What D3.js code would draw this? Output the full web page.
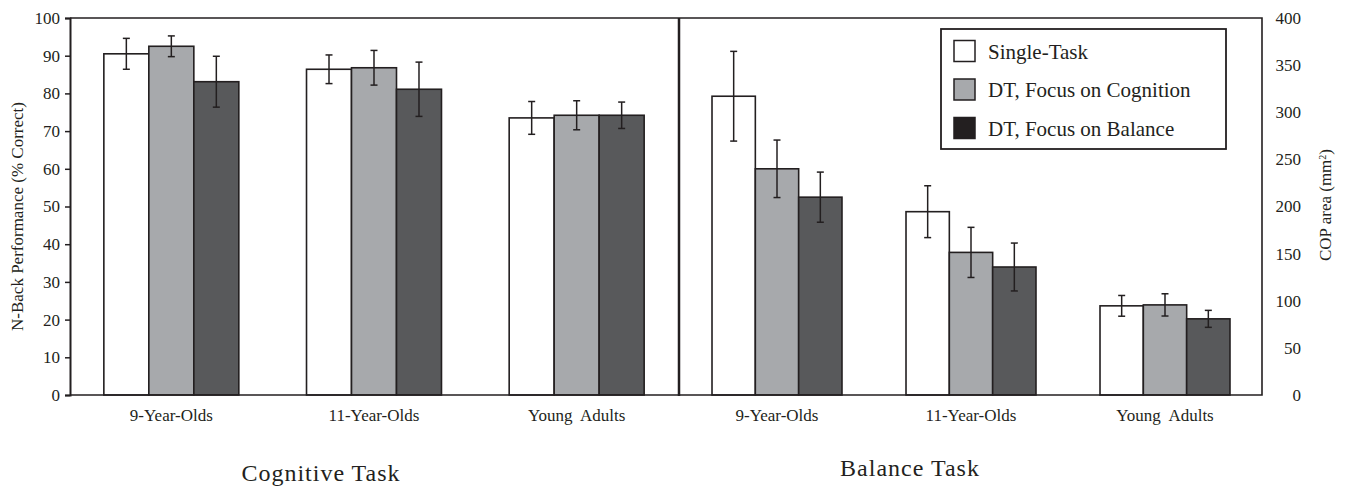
<!DOCTYPE html>
<html>
<head>
<meta charset="utf-8">
<script src="https://cdn.jsdelivr.net/npm/d3@7"></script>
<style>
  body { margin: 0; background: #fff; }
  svg text { font-family: "Liberation Serif", "Times New Roman", serif; fill: #231f20; }
</style>
</head>
<body>
<div id="chart"></div>
<script>
// =====================================
// DATA
// =====================================

const groups = ["9-Year-Olds", "11-Year-Olds", "Young  Adults"];
const series = ["Single-Task", "DT, Focus on Cognition", "DT, Focus on Balance"];

// Cognitive task: N-Back performance (% correct)
const nbackSingle = [90.5, 86.4, 73.5];
const nbackCog = [92.5, 86.8, 74.2];
const nbackBal = [83.1, 81.1, 74.2];
const nbackSingleErr = [4.1, 3.8, 4.35];
const nbackCogErr = [2.75, 4.6, 3.85];
const nbackBalErr = [6.75, 7.2, 3.5];

// Balance task: COP area (mm2)
const copSingle = [317, 194.5, 94.6];
const copCog = [240, 151.3, 95.6];
const copBal = [209.9, 135.8, 80.8];
const copSingleErr = [47.6, 27.5, 11];
const copCogErr = [30.5, 26.6, 11.8];
const copBalErr = [26.6, 25.4, 9];

const leftTicks = [0, 10, 20, 30, 40, 50, 60, 70, 80, 90, 100];
const rightTicks = [0, 50, 100, 150, 200, 250, 300, 350, 400];

const barColors = ["#ffffff", "#a7a9ac", "#58595b"];
const legendColors = ["#ffffff", "#a7a9ac", "#231f20"];
const ink = "#231f20";

// =====================================
// DIMENSIONS
// =====================================

const W = 1345, H = 489;
const plotTop = 18, plotBottom = 395;
const leftX0 = 70, leftX1 = 678;
const rightX0 = 679, rightX1 = 1262;

const svg = d3.select("#chart")
  .append("svg")
  .attr("width", W)
  .attr("height", H);

// =====================================
// SCALES
// =====================================

const yLeft = d3.scaleLinear().domain([0, 100]).range([plotBottom, plotTop]);
const yRight = d3.scaleLinear().domain([0, 400]).range([plotBottom, plotTop]);

const xLeft = d3.scaleBand().domain(groups).range([leftX0, leftX1])
  .paddingInner(0.334).paddingOuter(0.167);
const xRight = d3.scaleBand().domain(groups).range([rightX0 + 1, rightX1])
  .paddingInner(0.33).paddingOuter(0.165);

function rows(vals, errs) {
  return groups.map((g, gi) => series.map((s, si) => ({
    group: g, series: s, si: si,
    value: vals[si][gi], err: errs[si][gi]
  })));
}

const leftData = rows([nbackSingle, nbackCog, nbackBal], [nbackSingleErr, nbackCogErr, nbackBalErr]);
const rightData = rows([copSingle, copCog, copBal], [copSingleErr, copCogErr, copBalErr]);

// =====================================
// BARS + ERROR BARS
// =====================================

function drawPanel(data, x, y) {
  const xs = d3.scaleBand().domain(series).range([0, x.bandwidth()]);

  const g = svg.append("g")
    .selectAll("g")
    .data(data)
    .enter()
    .append("g")
    .attr("transform", d => `translate(${x(d[0].group)},0)`);

  g.selectAll("rect")
    .data(d => d)
    .enter()
    .append("rect")
    .attr("x", d => xs(d.series))
    .attr("width", xs.bandwidth())
    .attr("y", d => y(d.value))
    .attr("height", d => y(0) - y(d.value))
    .attr("fill", d => barColors[d.si])
    .attr("stroke", ink)
    .attr("stroke-width", 1.6);

  const eb = g.selectAll(".err")
    .data(d => d)
    .enter()
    .append("g")
    .attr("class", "err")
    .attr("stroke", ink)
    .attr("stroke-width", 1.5);

  const cx = d => xs(d.series) + xs.bandwidth() / 2;

  eb.append("line")
    .attr("x1", cx).attr("x2", cx)
    .attr("y1", d => y(d.value + d.err))
    .attr("y2", d => y(d.value - d.err));

  eb.append("line")
    .attr("x1", d => cx(d) - 3.5).attr("x2", d => cx(d) + 3.5)
    .attr("y1", d => y(d.value + d.err))
    .attr("y2", d => y(d.value + d.err));

  eb.append("line")
    .attr("x1", d => cx(d) - 3.5).attr("x2", d => cx(d) + 3.5)
    .attr("y1", d => y(d.value - d.err))
    .attr("y2", d => y(d.value - d.err));

  // group labels
  svg.append("g")
    .selectAll("text")
    .data(groups)
    .enter()
    .append("text")
    .attr("x", d => x(d) + x.bandwidth() / 2)
    .attr("y", 421)
    .attr("text-anchor", "middle")
    .style("font-size", "17px")
    .style("white-space", "pre")
    .text(d => d);
}

drawPanel(leftData, xLeft, yLeft);
drawPanel(rightData, xRight, yRight);

// =====================================
// AXES / FRAMES
// =====================================

// Left Y axis
const axL = svg.append("g")
  .attr("transform", `translate(${leftX0},0)`)
  .call(d3.axisLeft(yLeft).tickValues(leftTicks).tickSize(5).tickPadding(5));
axL.select(".domain").attr("stroke", ink).attr("stroke-width", 2);
axL.selectAll(".tick line").attr("stroke", ink).attr("stroke-width", 1.5);
axL.selectAll(".tick text")
  .style("font-size", "17px")
  .style("font-family", "Liberation Serif")
  .attr("fill", ink);

// Right Y axis (labels right-aligned)
const axR = svg.append("g")
  .attr("transform", `translate(${rightX1},0)`)
  .call(d3.axisRight(yRight).tickValues(rightTicks).tickSize(0));
axR.select(".domain").remove();
axR.selectAll(".tick text")
  .attr("x", 39)
  .attr("text-anchor", "end")
  .style("font-size", "17px")
  .style("font-family", "Liberation Serif")
  .attr("fill", ink);

// frames
svg.append("path")
  .attr("d", `M${leftX0},${plotBottom}H${rightX1}V${plotTop}H${leftX0}`)
  .attr("fill", "none")
  .attr("stroke", ink)
  .attr("stroke-width", 1.6);

svg.append("line")
  .attr("x1", rightX0).attr("x2", rightX0)
  .attr("y1", plotTop).attr("y2", plotBottom + 1)
  .attr("stroke", ink)
  .attr("stroke-width", 2.5);

// Axis titles
svg.append("text")
  .attr("transform", `translate(23,${(plotTop + plotBottom) / 2 + 10}) rotate(-90)`)
  .attr("text-anchor", "middle")
  .style("font-size", "17px")
  .text("N-Back Performance (% Correct)");

const copTitle = svg.append("text")
  .attr("transform", `translate(1331,205) rotate(-90)`)
  .attr("text-anchor", "middle")
  .style("font-size", "17px");
copTitle.append("tspan").text("COP area (mm");
copTitle.append("tspan").attr("baseline-shift", "super").style("font-size", "10px").text("2");
copTitle.append("tspan").text(")");

// Panel titles
const panelTitles = ["Cognitive Task", "Balance Task"];
svg.selectAll(".panel-title")
  .data(panelTitles)
  .enter()
  .append("text")
  .attr("class", "panel-title")
  .attr("x", (d, i) => i === 0 ? 321 : 910)
  .attr("y", (d, i) => i === 0 ? 481 : 476)
  .attr("text-anchor", "middle")
  .style("font-size", "24px")
  .style("letter-spacing", "1px")
  .text(d => d);

// =====================================
// LEGEND
// =====================================

const legend = svg.append("g");

legend.append("rect")
  .attr("x", 941).attr("y", 29)
  .attr("width", 285).attr("height", 120)
  .attr("fill", "#fff")
  .attr("stroke", ink)
  .attr("stroke-width", 1.8);

const li = legend.selectAll(".li")
  .data(series)
  .enter()
  .append("g")
  .attr("transform", (d, i) => `translate(954,${51 + i * 38.5})`);

li.append("rect")
  .attr("x", 0).attr("y", -10.5)
  .attr("width", 21).attr("height", 21)
  .attr("fill", (d, i) => legendColors[i])
  .attr("stroke", ink)
  .attr("stroke-width", 1.5);

li.append("text")
  .attr("x", 34)
  .attr("y", 7.5)
  .style("font-size", "21px")
  .text(d => d);
</script>
</body>
</html>
